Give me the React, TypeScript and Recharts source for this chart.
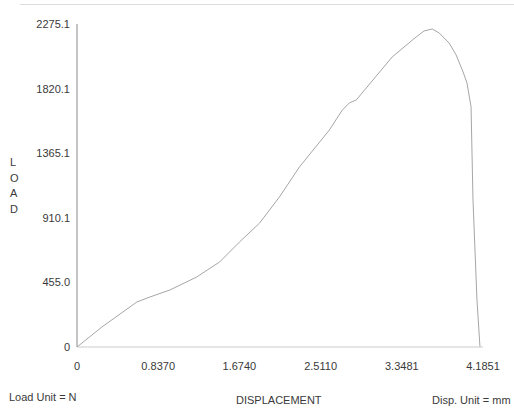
import { LineChart, Line, XAxis, YAxis } from "recharts";

// displacement (mm) vs load (N)
const displacement = [
  0, 0.257, 0.617, 0.751, 0.956, 1.234, 1.47, 1.676, 1.882, 2.087, 2.293,
  2.602, 2.735, 2.807, 2.879, 3.249, 3.496, 3.578, 3.661, 3.733, 3.836,
  3.908, 3.98, 4.02, 4.062, 4.082, 4.123, 4.154,
];
const load = [
  0, 141, 317, 352, 401, 493, 599, 740, 873, 1057, 1268, 1529, 1669, 1719,
  1740, 2043, 2184, 2226, 2240, 2212, 2141, 2057, 1937, 1860, 1691, 1035,
  331, 0,
];

const xTicks = [0, 0.837, 1.674, 2.511, 3.3481, 4.1851];
const xTickLabels = ["0", "0.8370", "1.6740", "2.5110", "3.3481", "4.1851"];
const yTicks = [0, 455.0, 910.1, 1365.1, 1820.1, 2275.1];
const yTickLabels = ["0", "455.0", "910.1", "1365.1", "1820.1", "2275.1"];

const data = displacement.map((d, i) => ({ disp: d, load: load[i] }));

const font = "'Liberation Sans', Arial, sans-serif";
const textColor = "#3a3a3a";

const labelStyle = (left: number, top: number): React.CSSProperties => ({
  position: "absolute",
  left,
  top,
  fontFamily: font,
  fontSize: 11,
  color: textColor,
  whiteSpace: "nowrap",
  lineHeight: "12px",
});

export default function App() {
  return (
    <div
      style={{
        position: "absolute",
        left: 0,
        top: 0,
        width: 514,
        height: 412,
        background: "#fff",
        overflow: "hidden",
      }}
    >
      {/* faint scan edge at the top */}
      <div
        style={{
          position: "absolute",
          left: 20,
          top: 4,
          width: 494,
          height: 1,
          background: "#dcdcdc",
        }}
      />
      <LineChart
        width={514}
        height={412}
        data={data}
        margin={{ top: 24, right: 31, bottom: 35, left: 17 }}
      >
        <XAxis
          dataKey="disp"
          type="number"
          domain={[0, 4.1851]}
          ticks={xTicks}
          tickFormatter={(_v: number, i: number) => xTickLabels[i]}
          tickLine={false}
          tickSize={0}
          tickMargin={15}
          stroke="#cccccc"
          tick={{ fill: textColor, fontSize: 11, fontFamily: font }}
          interval={0}
          allowDataOverflow
        />
        <YAxis
          type="number"
          domain={[0, 2275.1]}
          ticks={yTicks}
          tickFormatter={(_v: number, i: number) => yTickLabels[i]}
          tickLine={false}
          tickSize={0}
          tickMargin={7}
          width={60}
          stroke="#8a8a8a"
          tick={{ fill: textColor, fontSize: 11, fontFamily: font }}
          interval={0}
          allowDataOverflow
        />
        <Line
          type="linear"
          dataKey="load"
          stroke="#a6a6a6"
          strokeWidth={1}
          dot={false}
          isAnimationActive={false}
        />
      </LineChart>
      {["L", "O", "A", "D"].map((ch, i) => (
        <div key={ch} style={labelStyle(10, 156 + i * 15.5)}>
          {ch}
        </div>
      ))}
      <div style={labelStyle(9, 391)}>Load Unit = N</div>
      <div style={labelStyle(236, 394)}>DISPLACEMENT</div>
      <div style={labelStyle(432, 394)}>Disp. Unit = mm</div>
    </div>
  );
}
